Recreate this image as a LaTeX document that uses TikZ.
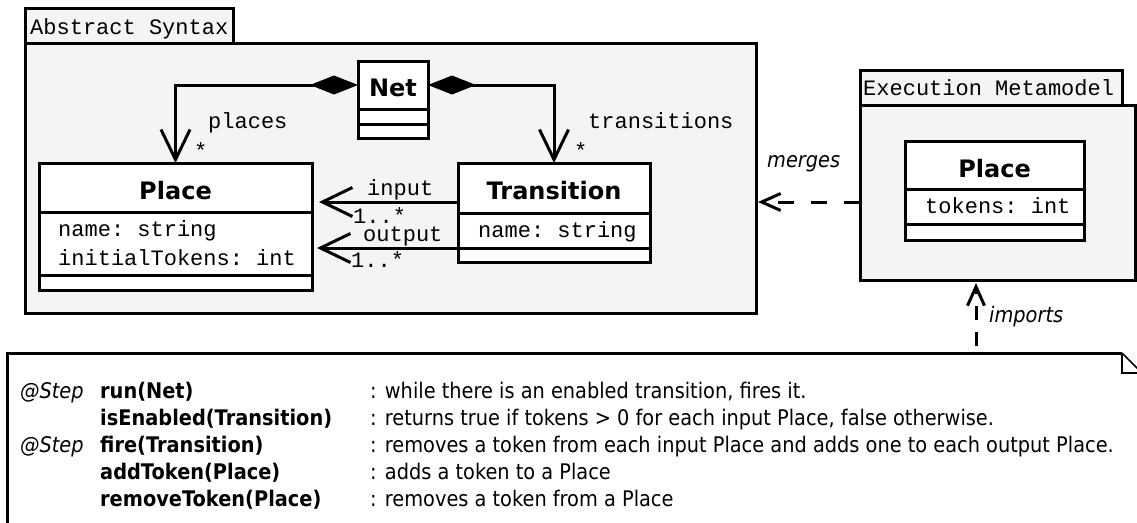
\documentclass[tikz,border=0pt]{standalone}
\usepackage{fontspec}
\setmonofont{Liberation Mono}
\newfontfamily\clsfont{DejaVu Sans}
\newfontfamily\notefont{DejaVu Sans}[FakeStretch=0.9]
\usetikzlibrary{arrows.meta,calc}
\definecolor{pkgfill}{HTML}{F4F4F4}
\begin{document}
\begin{tikzpicture}[x=1pt,y=-1pt,
  pkg/.style={draw, line width=3pt, fill=pkgfill, inner sep=0pt, outer sep=0pt, anchor=north west},
  cbox/.style={draw, line width=3pt, fill=white, inner sep=0pt, outer sep=0pt},
  mono/.style={font=\ttfamily\fontsize{22}{26}\selectfont, inner sep=0pt, anchor=base west},
  clsname/.style={font=\clsfont\bfseries\fontsize{24}{28}\selectfont, inner sep=0pt, anchor=base},
  notetext/.style={font=\notefont\fontsize{21.5}{26}\selectfont, inner sep=0pt, anchor=base west},
  notei/.style={font=\notefont\itshape\fontsize{21.5}{26}\selectfont, inner sep=0pt, anchor=base west},
  noteb/.style={font=\notefont\bfseries\fontsize{21.5}{26}\selectfont, inner sep=0pt, anchor=base west},
  compo/.style={line width=3pt, {Diamond[length=48pt,width=19pt]}-{Straight Barb[length=30pt,width=29pt]}},
  assoc/.style={line width=3pt, -{Straight Barb[length=30pt,width=29pt]}},
  dep/.style={line width=3pt, dash pattern=on 16pt off 17pt, -{Straight Barb[length=19pt,width=17pt]}},
]
\useasboundingbox (0,0) rectangle (1137,522);

% Abstract Syntax package
\node[pkg, minimum width=208pt, minimum height=35pt] (asTab) at (25,8) {};
\node[pkg, minimum width=731pt, minimum height=270pt] (asB) at (25,43) {};
\node[mono] (asTitle) at (30,34) {Abstract Syntax};

% Net
\node[cbox, minimum width=70pt, minimum height=48pt] (netT) at (393,85) {};
\node[cbox, minimum width=70pt, minimum height=15pt] (netA) at (393,116.5) {};
\node[cbox, minimum width=70pt, minimum height=14pt] (netO) at (393,131) {};
\node[clsname] (netN) at ([yshift=-11pt]netT.center) {Net};

% Place
\node[cbox, minimum width=273pt, minimum height=49pt] (placeT) at (175.5,187.5) {};
\node[cbox, minimum width=273pt, minimum height=63pt] (placeA) at (175.5,243.5) {};
\node[cbox, minimum width=273pt, minimum height=15pt] (placeO) at (175.5,282.5) {};
\node[clsname] (placeN) at ([yshift=-11.5pt]placeT.center) {Place};
\node[mono] (placeA1) at (58,236) {name: string};
\node[mono] (placeA2) at (58,265) {initialTokens: int};

% Transition
\node[cbox, minimum width=192pt, minimum height=50pt] (transT) at (554,188) {};
\node[cbox, minimum width=192pt, minimum height=35pt] (transA) at (554,230.5) {};
\node[cbox, minimum width=192pt, minimum height=14pt] (transO) at (554,255) {};
\node[clsname] (transN) at ([yshift=-11pt]transT.center) {Transition};
\node[mono] (transA1) at (478,237) {name: string};

% composition connectors
\draw[compo] (netT.west) -| (placeT.north);
\draw[compo] (netT.east) -| (transT.north);
\node[mono] (lPlaces) at (208,128) {places};
\node[mono] (lPlacesM) at (194,158) {*};
\node[mono] (lTrans) at (588,128) {transitions};
\node[mono] (lTransM) at (574,158) {*};

% associations
\coordinate (inS) at ([yshift=-14pt]transT.west);
\draw[assoc, shorten >=7pt] (inS) -- (inS -| placeT.east);
\draw[assoc, shorten >=5pt] (transA.south west) -- (transA.south west -| placeA.east);
\node[mono] (lIn) at (367,195) {input};
\node[mono] (lInM) at (353,223) {1..*};
\node[mono] (lOut) at (363,241) {output};
\node[mono] (lOutM) at (351,267) {1..*};

% Execution Metamodel package
\node[pkg, minimum width=262pt, minimum height=35pt] (exTab) at (860,70) {};
\node[pkg, minimum width=275pt, minimum height=175pt] (exB) at (860,105) {};
\node[mono] (exTitle) at (863,95) {Execution Metamodel};
\node[cbox, minimum width=179pt, minimum height=48pt] (exT) at (994.5,165) {};
\node[cbox, minimum width=179pt, minimum height=35pt] (exA) at (994.5,206.5) {};
\node[cbox, minimum width=179pt, minimum height=16pt] (exO) at (994.5,232) {};
\node[clsname] (exN) at ([yshift=-12pt]exT.center) {Place};
\node[mono] (exA1) at (925,213) {tokens: int};

% merges
\coordinate (mgS) at ([yshift=-9.5pt]exB.west);
\draw[dep, shorten >=2pt] (mgS) -- (mgS -| asB.east);
\node[notei] (lMerges) at (767,167) {merges};

% note
\node[inner sep=0pt, outer sep=0pt, minimum width=1135pt, minimum height=200pt, anchor=north west] (note) at (7,353) {};
\fill[white] (note.south west) -- (note.north west) -- ([xshift=-20pt]note.north east) -- ([yshift=-20pt]note.north east) -- (note.south east) -- cycle;
\draw[line width=3pt] (note.south west) -- (note.north west) -- ([xshift=-20pt]note.north east);
\draw[line width=1.5pt] ([xshift=-20pt]note.north east) -- ([yshift=-20pt]note.north east);
\draw[line width=1.5pt] ([xshift=-20pt]note.north east) -- ++(0,20) -- ++(20,0);

% imports
\coordinate (imE) at ([xshift=-21.5pt]exB.south);
\draw[dep, dash pattern=on 14pt off 12pt, dash phase=19pt, shorten >=3pt] (imE |- note.north) -- (imE);
\node[notei] (lImports) at (989,322) {imports};

% note text
\node[notei] (s1) at (20,398) {@Step};
\node[noteb] (f1) at (100,398) {run(Net)};
\node[notetext] (d1) at (370,398) {: while there is an enabled transition, fires it.};
\node[noteb] (f2) at (100,425) {isEnabled(Transition)};
\node[notetext] (d2) at (370,425) {: returns true if tokens > 0 for each input Place, false otherwise.};
\node[notei] (s3) at (20,452) {@Step};
\node[noteb] (f3) at (100,452) {fire(Transition)};
\node[notetext] (d3) at (370,452) {: removes a token from each input Place and adds one to each output Place.};
\node[noteb] (f4) at (100,479) {addToken(Place)};
\node[notetext] (d4) at (370,479) {: adds a token to a Place};
\node[noteb] (f5) at (100,506) {removeToken(Place)};
\node[notetext] (d5) at (370,506) {: removes a token from a Place};
\end{tikzpicture}
\end{document}
